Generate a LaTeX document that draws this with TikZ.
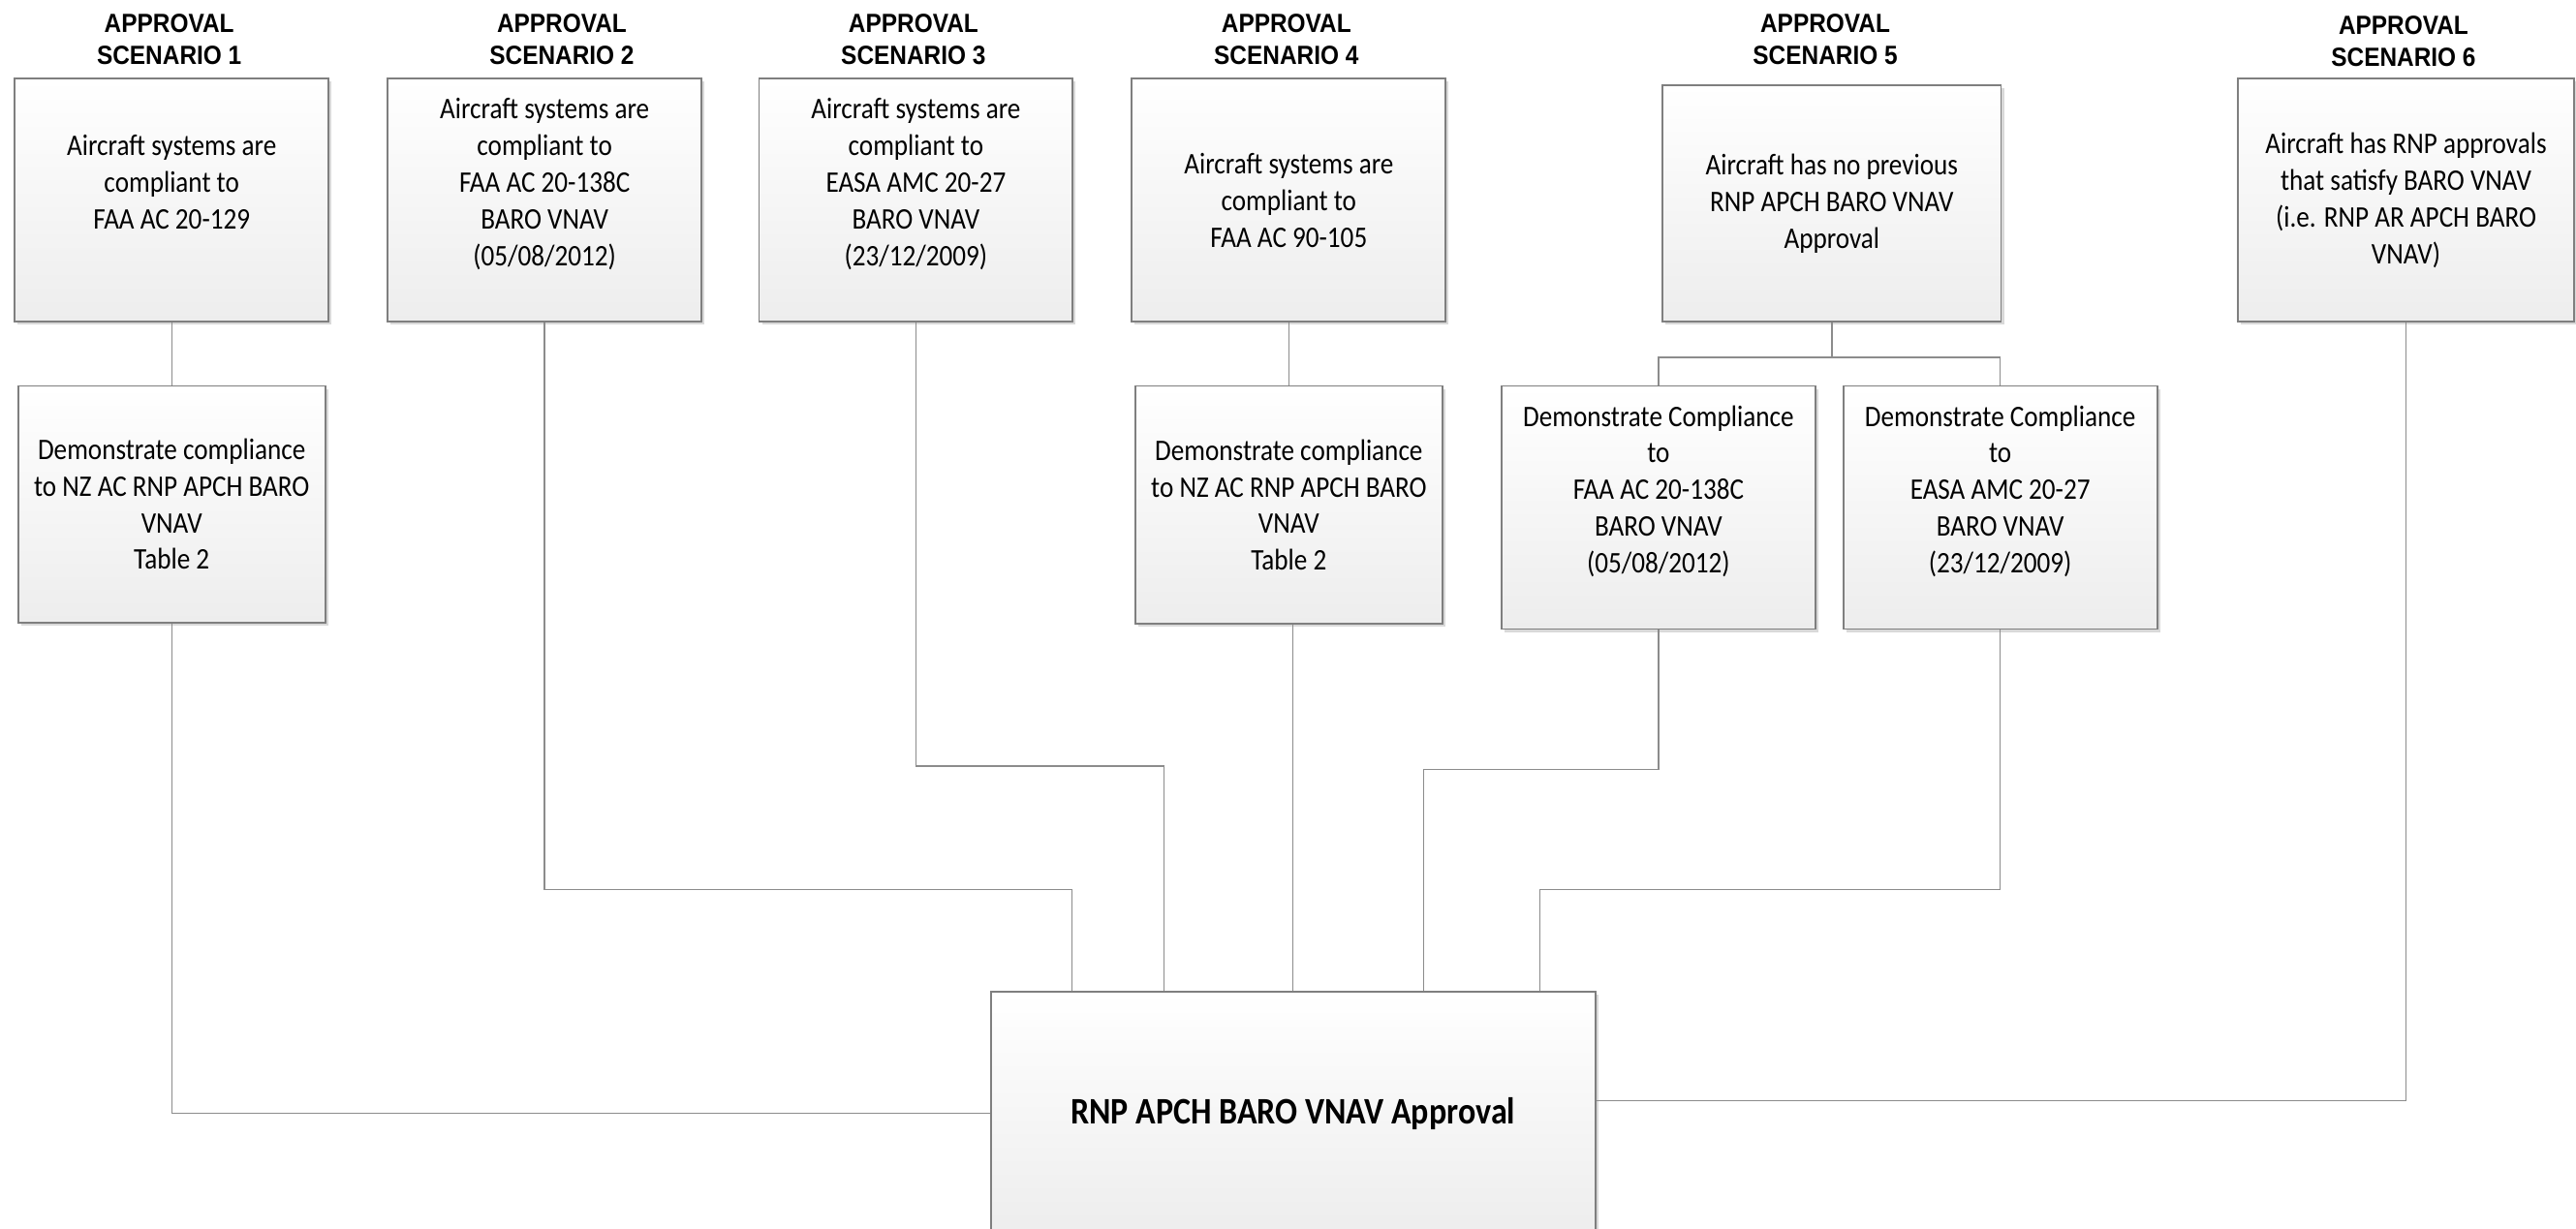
\documentclass[tikz,border=0pt]{standalone}
\usepackage{fontspec}
\usetikzlibrary{calc,shadows}
\newfontfamily\bodyfont{Carlito}[FakeStretch=0.88]
\newfontfamily\headfont{Liberation Sans}[FakeStretch=0.9]
\definecolor{boxline}{HTML}{7F7F7F}
\definecolor{linkline}{HTML}{8C8C8C}
\definecolor{boxshade}{HTML}{EDEDED}

\begin{document}
\begin{tikzpicture}[x=0.5pt, y=-0.5pt,
    box/.style={draw=boxline, line width=0.55pt, top color=white, bottom color=boxshade,
        drop shadow={shadow xshift=0.9pt, shadow yshift=-0.9pt, opacity=0.15, fill=black},
        minimum width=95.5pt, minimum height=74pt, inner sep=0pt, align=center,
        font=\bodyfont\fontsize{9.1}{11.15}\selectfont},
    head/.style={align=center, font=\headfont\bfseries\fontsize{8}{9.6}\selectfont},
    link/.style={draw=linkline, line width=0.4pt}]
    \useasboundingbox (0,0) rectangle (1568,748.3);
    \fill[white] (0,0) rectangle (1568,748.3);

    \foreach \n/\x/\y in {1/103/24, 2/342/24, 3/556/24, 4/783/24, 5/1111/24, 6/1463/25}
        \node[head] (h\n) at (\x,\y) {APPROVAL\\SCENARIO \n};

    \node[box] (a1) at (104.5,122) {Aircraft systems are\\compliant to\\FAA AC 20-129\\~};
    \node[box] (a2) at (331.5,122) {Aircraft systems are\\compliant to\\FAA AC 20-138C\\BARO VNAV\\(05/08/2012)\\~};
    \node[box] (a3) at (557.5,122) {Aircraft systems are\\compliant to\\EASA AMC 20-27\\BARO VNAV\\(23/12/2009)\\~};
    \node[box] (a4) at (784.5,122) {Aircraft systems are\\compliant to\\FAA AC 90-105};
    \node[box, minimum width=103pt, minimum height=72pt] (a5) at (1115,124)
        {Aircraft has no previous\\RNP APCH BARO VNAV\\Approval};
    \node[box, minimum width=102.5pt] (a6) at (1464.5,122)
        {Aircraft has RNP approvals\\that satisfy BARO VNAV\\(i.e. RNP AR APCH BARO\\VNAV)};

    \node[box, minimum width=93.5pt, minimum height=72pt] (b1) at (104.5,307)
        {Demonstrate compliance\\to NZ AC RNP APCH BARO\\VNAV\\Table 2};
    \node[box, minimum width=93.5pt, minimum height=72.5pt] (b4) at (784.5,307.5)
        {Demonstrate compliance\\to NZ AC RNP APCH BARO\\VNAV\\Table 2};
    \node[box] (b5a) at (1009.5,309) {Demonstrate Compliance\\to\\FAA AC 20-138C\\BARO VNAV\\(05/08/2012)\\~};
    \node[box] (b5b) at (1217.5,309) {Demonstrate Compliance\\to\\EASA AMC 20-27\\BARO VNAV\\(23/12/2009)\\~};

    \node[box, minimum width=184pt, font=\bodyfont\bfseries\fontsize{11.4}{13.5}\selectfont]
        (R) at (787,678) {RNP APCH BARO VNAV Approval};

    \draw[link] (a1) -- (b1);
    \draw[link] (b1.south) |- (R.west);
    \draw[link] (a2.south) -- ++(0,345) -| ($(R.north west)+(50,0)$);
    \draw[link] (a3.south) -- ++(0,270) -| ($(R.north west)+(106,0)$);
    \draw[link] (a4) -- (b4);
    \draw[link] (b4.south -| R.north) -- (R.north);
    \draw[link] (a5.south) -- ++(0,21) coordinate (fork);
    \draw[link] (fork) -| (b5a.north);
    \draw[link] (fork) -| (b5b.north);
    \draw[link] (b5a.south) -- ++(0,85) -| ($(R.north west)+(264,0)$);
    \draw[link] (b5b.south) -- ++(0,158) -| ($(R.north west)+(335,0)$);
    \draw[link] ($(R.east)+(0,-8)$) -| (a6.south);
\end{tikzpicture}
\end{document}
